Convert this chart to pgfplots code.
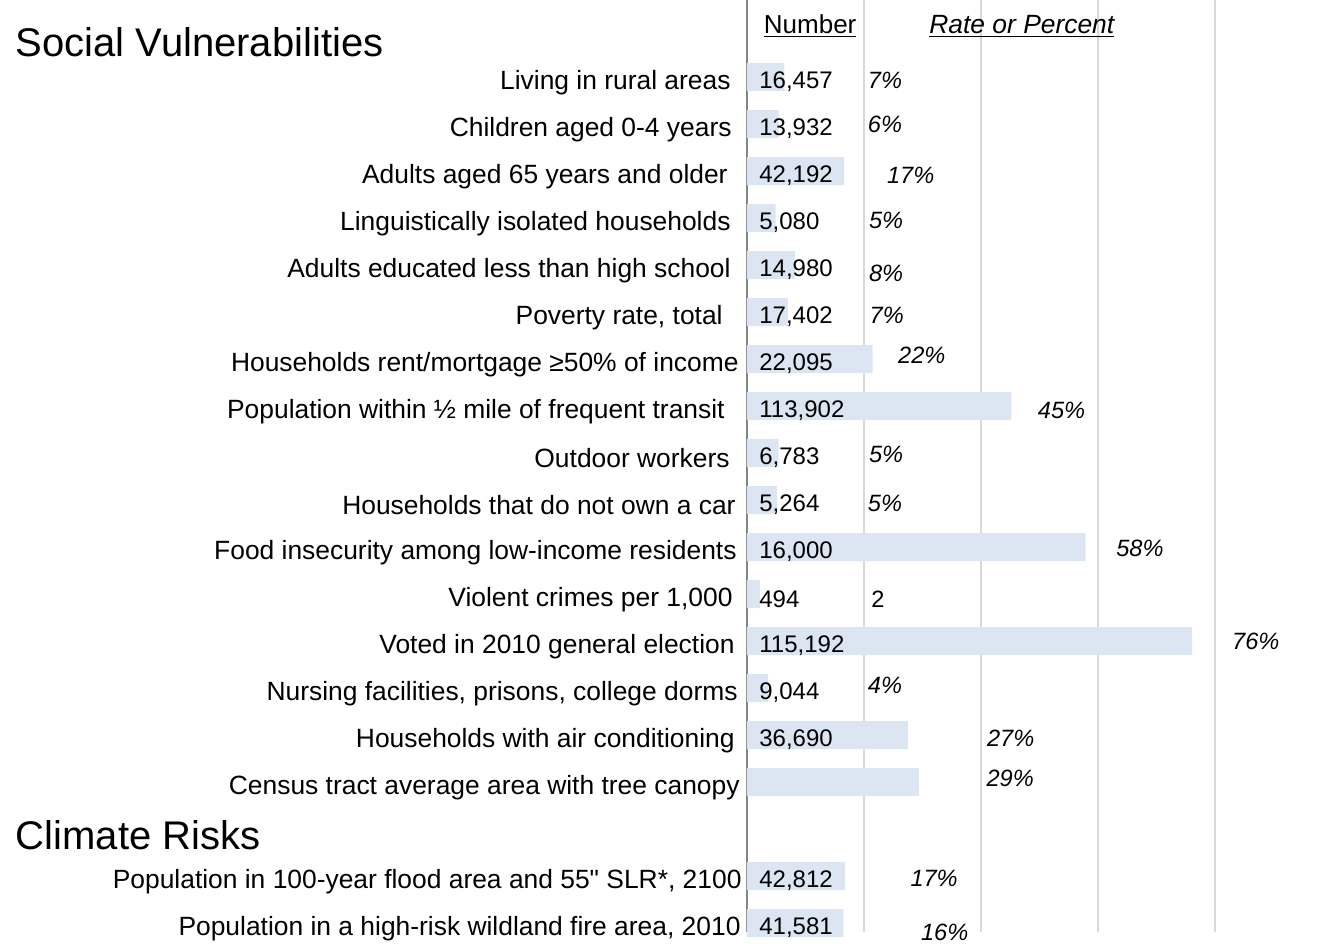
\documentclass[border=0pt]{standalone}
\usepackage{pgfplots}
\pgfplotsset{compat=1.18}
\usepackage{pgfplotstable}
\usepackage{fontspec}
\setmainfont{Liberation Sans}[Ligatures=TeXOff]
\definecolor{barblue}{RGB}{220,230,242}
\definecolor{gridgray}{RGB}{217,217,217}
\definecolor{axisgray}{RGB}{134,134,134}

% row: category slot (0 = top); bar: bar length (percent)
\pgfplotstableread{
row bar num
0 6.4 16,457
1 5.4 13,932
2 16.6 42,192
3 4.9 5,080
4 8.2 14,980
5 7.0 17,402
6 21.5 22,095
7 45.2 113,902
8 5.4 6,783
9 5.1 5,264
10 57.9 16,000
11 2.2 494
12 76.1 115,192
13 3.6 9,044
14 27.5 36,690
15 29.4 {}
17 16.8 42,812
18 16.5 41,581
}\data

% percent labels: position (x in percent units, y in row units) and text
\pgfplotstableread{
px py pct
23.6 0.00 {\itshape 7\%}
23.6 0.94 {\itshape 6\%}
28.0 2.04 {\itshape 17\%}
23.8 3.00 {\itshape 5\%}
23.8 4.11 {\itshape 8\%}
23.9 5.02 {\itshape 7\%}
29.9 5.85 {\itshape 22\%}
53.8 7.04 {\itshape 45\%}
23.8 7.96 {\itshape 5\%}
23.6 9.02 {\itshape 5\%}
67.2 9.96 {\itshape 58\%}
22.4 11.06 {2}
87.0 11.94 {\itshape 76\%}
23.6 12.89 {\itshape 4\%}
45.1 14.00 {\itshape 27\%}
45.0 14.87 {\itshape 29\%}
32.0 16.98 {\itshape 17\%}
33.8 18.13 {\itshape 16\%}
}\pcts

\begin{document}
\begin{tikzpicture}
\useasboundingbox (-373.5pt,-5.5pt) rectangle (288pt,466pt);
\begin{axis}[
  at={(0,0)}, anchor=south west,
  scale only axis,
  width=288pt, height=466pt,
  xmin=0, xmax=98.5,
  ymin=-1.70, ymax=18.13,
  y dir=reverse,
  clip=false,
  axis lines*=left,
  x axis line style={draw=none},
  y axis line style={draw=axisgray, line width=1pt},
  xtick={20,40,60,80},
  xticklabels={},
  xmajorgrids,
  grid style={draw=gridgray, line width=1pt},
  major tick length=0pt,
  ytick={0,1,2,3,4,5,6,7,8,9,10,11,12,13,14,15,17,18},
  yticklabels={
    Living in rural areas\kern2pt,
    Children aged 0-4 years\kern1.5pt,
    Adults aged 65 years and older\kern3.5pt,
    Linguistically isolated households\kern2pt,
    Adults educated less than high school\kern2pt,
    {Poverty rate, total\kern6pt},
    Households rent/mortgage ≥50\% of income\kern-2pt,
    Population within ½ mile of frequent transit\kern5pt,
    Outdoor workers\kern2.5pt,
    Households that do not own a car\kern-0.5pt,
    Food insecurity among low-income residents\kern-1pt,
    {Violent crimes per 1,000\kern1pt},
    Voted in 2010 general election,
    {Nursing facilities, prisons, college dorms\kern-1.5pt},
    Households with air conditioning,
    Census tract average area with tree canopy\kern-2.5pt,
    {Population in 100-year flood area and 55" SLR*, 2100\kern-3.5pt},
    {Population in a high-risk wildland fire area, 2010\kern-3pt}
  },
  yticklabel style={anchor=east, inner sep=0pt, xshift=-6pt, yshift=-1.25pt, font=\fontsize{13.2}{15}\selectfont},
]
\addplot[xbar, bar width=14pt, fill=barblue, draw=none]
  table[x=bar, y expr=\thisrow{row}-0.06] {\data};
\addplot[draw=none, mark=none, nodes near coords, point meta=explicit symbolic,
  nodes near coords style={anchor=west, inner sep=0pt, xshift=6pt, font=\fontsize{12}{14}\selectfont}]
  table[x expr=0, y expr=\thisrow{row}+0.04, meta=num] {\data};
\addplot[draw=none, mark=none, nodes near coords, point meta=explicit symbolic,
  nodes near coords style={anchor=center, inner sep=0pt, font=\fontsize{11.8}{14}\selectfont}]
  table[x=px, y=py, meta=pct] {\pcts};
\node[anchor=center, font=\fontsize{13}{15}\selectfont] at (axis cs:10.8,-1.14) {\underline{Number}};
\node[anchor=center, font=\fontsize{13.2}{15}\selectfont\itshape] at (axis cs:47.0,-1.14) {\underline{Rate or Percent}};
\node[anchor=west, inner sep=0pt, font=\fontsize{20}{24}\selectfont] at (axis cs:-125.1,-0.81) {Social Vulnerabilities};
\node[anchor=west, inner sep=0pt, font=\fontsize{20}{24}\selectfont] at (axis cs:-125.1,16.06) {Climate Risks};
\end{axis}
\end{tikzpicture}
\end{document}
